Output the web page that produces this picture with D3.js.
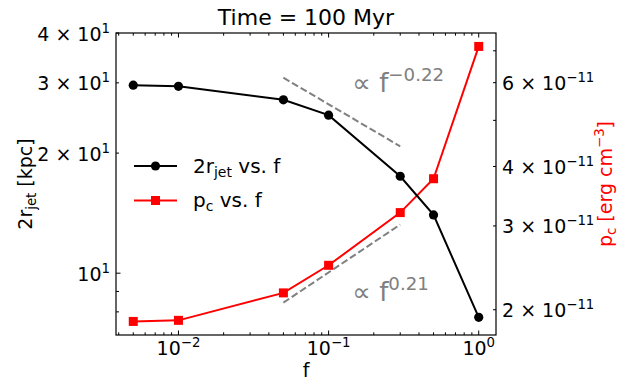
<!DOCTYPE html>
<html><head><meta charset="utf-8">
<script src="https://cdn.jsdelivr.net/npm/d3@7"></script>
<style>html,body{margin:0;padding:0;background:#fff;}svg{display:block;font-family:"DejaVu Sans",sans-serif;}</style>
</head><body>
<script>
// ---- data ----
const fValues = [0.005, 0.01, 0.05, 0.1, 0.3, 0.5, 1.0];
const rJet = [29.6, 29.4, 27.2, 24.9, 17.5, 14.0, 7.75];          // 2 r_jet [kpc]
const pC = [1.89e-11, 1.90e-11, 2.17e-11, 2.48e-11, 3.20e-11, 3.77e-11, 7.15e-11]; // p_c [erg cm^-3]
const fitF = [0.05, 0.3];
const fitR = [30.9, 20.8];          // ∝ f^-0.22 guide
const fitP = [2.07e-11, 3.02e-11];  // ∝ f^0.21 guide
const xMajor = [0.01, 0.1, 1];
const xMajorExp = ["−2", "−1", "0"];
const yLTicks = [8, 9, 10, 20, 30, 40];
const yLLabels = [null, null, ["", "1"], ["2", "1"], ["3", "1"], ["4", "1"]];
const yRTicks = [2e-11, 3e-11, 4e-11, 5e-11, 6e-11, 7e-11];
const yRLabels = [["2", "−11"], ["3", "−11"], ["4", "−11"], null, ["6", "−11"], null];

const W = 636, H = 381;
const L = 116, R = 496, T = 33, B = 335;
const svg = d3.select("body").append("svg").attr("width", W).attr("height", H);

const x = d3.scaleLog().domain([Math.pow(10, -2.416), Math.pow(10, 0.115)]).range([L, R]);
const yL = d3.scaleLog().domain([7, 40]).range([B, T]);
const yR = d3.scaleLog().domain([1.77e-11, 7.63e-11]).range([B, T]);

// rich text helper: parts = [[text, mode], ...] mode: "", "sup", "sub"
function rich(g, parts, size) {
  let off = 0;
  parts.forEach(([t, m]) => {
    const target = m === "sup" ? -0.42 * size : m === "sub" ? 0.22 * size : 0;
    const fs = m ? 0.7 * size : size;
    g.append("tspan").attr("dy", target - off).attr("font-size", fs).text(t);
    off = target;
  });
  return g;
}

// x minor ticks
const xMinor = [];
for (let e = -3; e <= 0; e++) for (let m = 2; m <= 9; m++) {
  const v = m * Math.pow(10, e);
  if (v >= x.domain()[0] && v <= x.domain()[1]) xMinor.push(v);
}
const tickG = svg.append("g").attr("stroke", "#000").attr("stroke-width", 1);
xMajor.forEach(v => {
  tickG.append("line").attr("x1", x(v)).attr("x2", x(v)).attr("y1", B).attr("y2", B - 4.5);
  tickG.append("line").attr("x1", x(v)).attr("x2", x(v)).attr("y1", T).attr("y2", T + 4.5);
});
xMinor.forEach(v => {
  tickG.append("line").attr("x1", x(v)).attr("x2", x(v)).attr("y1", B).attr("y2", B - 2.7);
  tickG.append("line").attr("x1", x(v)).attr("x2", x(v)).attr("y1", T).attr("y2", T + 2.7);
});
yLTicks.forEach((v, i) => {
  const len = v === 10 ? 4.5 : 3;
  tickG.append("line").attr("x1", L).attr("x2", L + len).attr("y1", yL(v)).attr("y2", yL(v));
});
yRTicks.forEach(v => {
  tickG.append("line").attr("x1", R).attr("x2", R - 3).attr("y1", yR(v)).attr("y2", yR(v));
});

// tick labels
const FS = 19;
xMajor.forEach((v, i) => {
  const t = svg.append("text").attr("x", x(v)).attr("y", 355).attr("text-anchor", "middle").attr("fill", "#000");
  rich(t, [["10", ""], [xMajorExp[i], "sup"]], FS);
});
yLTicks.forEach((v, i) => {
  const lab = yLLabels[i];
  if (!lab) return;
  const t = svg.append("text").attr("x", 110).attr("y", yL(v) + 7.5).attr("text-anchor", "end").attr("fill", "#000");
  const parts = lab[0] ? [[lab[0] + " × 10", ""], [lab[1], "sup"]] : [["10", ""], [lab[1], "sup"]];
  rich(t, parts, FS);
});
yRLabels.forEach((lab, i) => {
  if (!lab) return;
  const t = svg.append("text").attr("x", 502).attr("y", yR(yRTicks[i]) + 7.5).attr("text-anchor", "start").attr("fill", "#000");
  rich(t, [[lab[0] + " × 10", ""], [lab[1], "sup"]], FS);
});

// axis labels
rich(svg.append("text").attr("transform", `translate(32,${(T + B) / 2}) rotate(-90)`).attr("text-anchor", "middle").attr("fill", "#000"),
  [["2r", ""], ["jet", "sub"], [" [kpc]", ""]], FS);
rich(svg.append("text").attr("transform", `translate(612,${(T + B) / 2}) rotate(-90)`).attr("text-anchor", "middle").attr("fill", "#ff0000"),
  [["p", ""], ["c", "sub"], [" [erg cm", ""], ["−3", "sup"], ["]", ""]], FS);
svg.append("text").attr("x", (L + R) / 2).attr("y", 377).attr("text-anchor", "middle").attr("font-size", FS).text("f");
svg.append("text").attr("x", (L + R) / 2).attr("y", 25).attr("text-anchor", "middle").attr("font-size", 22).text("Time = 100 Myr");

// guide lines
const lineL = d3.line().x(d => x(d[0])).y(d => yL(d[1]));
const lineR = d3.line().x(d => x(d[0])).y(d => yR(d[1]));
svg.append("path").attr("d", lineL(fitF.map((f, i) => [f, fitR[i]]))).attr("fill", "none")
  .attr("stroke", "#808080").attr("stroke-width", 2).attr("stroke-dasharray", "7,3");
svg.append("path").attr("d", lineR(fitF.map((f, i) => [f, fitP[i]]))).attr("fill", "none")
  .attr("stroke", "#808080").attr("stroke-width", 2).attr("stroke-dasharray", "7,3");

// annotations
rich(svg.append("text").attr("x", x(0.144)).attr("y", yL(28.5)).attr("fill", "#808080"),
  [["∝ f", ""], ["−0.22", "sup"]], 26);
rich(svg.append("text").attr("x", x(0.144)).attr("y", yR(2.09e-11)).attr("fill", "#808080"),
  [["∝ f", ""], ["0.21", "sup"]], 26);

// data series
svg.append("path").attr("d", lineR(fValues.map((f, i) => [f, pC[i]]))).attr("fill", "none")
  .attr("stroke", "#ff0000").attr("stroke-width", 2);
svg.selectAll("rect.pc").data(fValues).enter().append("rect")
  .attr("x", (d) => x(d) - 4.5).attr("y", (d, i) => yR(pC[i]) - 4.5).attr("width", 9).attr("height", 9).attr("fill", "#ff0000");
svg.append("path").attr("d", lineL(fValues.map((f, i) => [f, rJet[i]]))).attr("fill", "none")
  .attr("stroke", "#000").attr("stroke-width", 2);
svg.selectAll("circle.rj").data(fValues).enter().append("circle")
  .attr("cx", d => x(d)).attr("cy", (d, i) => yL(rJet[i])).attr("r", 4.6).attr("fill", "#000");

// legend
const LFS = 20;
const lg = svg.append("g");
lg.append("line").attr("x1", 134).attr("x2", 177).attr("y1", 166).attr("y2", 166).attr("stroke", "#000").attr("stroke-width", 2);
lg.append("circle").attr("cx", 155.5).attr("cy", 166).attr("r", 4.6).attr("fill", "#000");
rich(lg.append("text").attr("x", 193).attr("y", 173), [["2r", ""], ["jet", "sub"], [" vs. f", ""]], LFS);
lg.append("line").attr("x1", 134).attr("x2", 177).attr("y1", 200.5).attr("y2", 200.5).attr("stroke", "#ff0000").attr("stroke-width", 2);
lg.append("rect").attr("x", 151).attr("y", 196).attr("width", 9).attr("height", 9).attr("fill", "#ff0000");
rich(lg.append("text").attr("x", 193).attr("y", 207), [["p", ""], ["c", "sub"], [" vs. f", ""]], LFS);

// frame
svg.append("rect").attr("x", L).attr("y", T).attr("width", R - L).attr("height", B - T)
  .attr("fill", "none").attr("stroke", "#000").attr("stroke-width", 1.2);
</script>
</body></html>
